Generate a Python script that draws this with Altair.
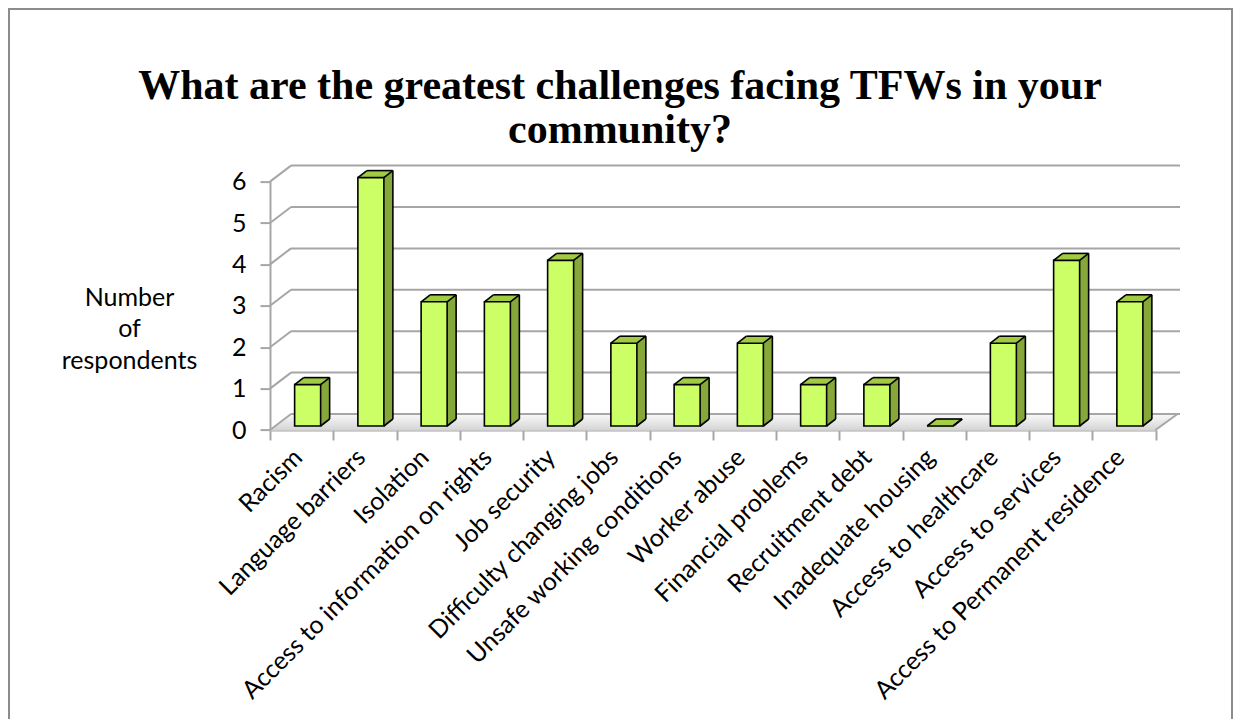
import altair as alt
import pandas as pd

CATEGORIES = ["Racism", "Language barriers", "Isolation", "Access to information on rights",
              "Job security", "Difficulty changing jobs", "Unsafe working conditions",
              "Worker abuse", "Financial problems", "Recruitment debt", "Inadequate housing",
              "Access to healthcare", "Access to services", "Access to Permanent residence"]
VALUES = [1, 6, 3, 3, 4, 2, 1, 2, 1, 1, 0, 2, 4, 3]
Y_TICKS = [0, 1, 2, 3, 4, 5, 6]
TITLE_LINES = ["What are the greatest challenges facing TFWs in your", "community?"]
Y_TITLE_LINES = ["Number", "of", "respondents"]

df = pd.DataFrame({"cat": CATEGORIES, "val": VALUES, "z": [0] * len(VALUES)})
grid_df = pd.DataFrame({"v": Y_TICKS})
one_df = pd.DataFrame({"v": [0]})
title_df = pd.DataFrame({"t": [TITLE_LINES]})

W = 885.5
H = 248.4
DX, DY = 21, -16      # back-wall depth
BX, BY = 6, -4        # bar plane offset
BW = 26               # bar width
PX, PY = 9, -7        # bar depth

FRONT = "#ccff66"
SIDE = "#86a83a"
TOP = "#a2cc44"
GRID = "#a6a6a6"
LABEL_FONT = "Lato"
FS = 25

x_scale = alt.Scale(domain=CATEGORIES, paddingInner=0, paddingOuter=0)
y_scale = alt.Scale(domain=[0, 6], nice=False, zero=True)

x_axis = alt.Axis(title=None, labelAngle=-45, labelAlign="right", labelBaseline="middle",
                  labelFont=LABEL_FONT, labelFontSize=FS, labelColor="black",
                  labelPadding=13, labelOffset=-4, labelLimit=500, labelOverlap=False,
                  tickBand="extent", tickSize=10, tickColor=GRID, tickWidth=2,
                  domainColor=GRID, domainWidth=2, grid=False)
y_axis = alt.Axis(values=Y_TICKS, title=Y_TITLE_LINES, titleAngle=0, titleX=-141, titleY=115.4,
                  titleAlign="center", titleBaseline="middle", titleFont=LABEL_FONT,
                  titleFontSize=FS, titleFontWeight="normal", titleColor="black",
                  titleLineHeight=31.5,
                  labelFont=LABEL_FONT, labelFontSize=FS, labelColor="black", labelPadding=14,
                  tickSize=10, tickColor=GRID, tickWidth=2, domainColor=GRID, domainWidth=2,
                  grid=False)

def X():
    return alt.X("cat:N", scale=x_scale, axis=x_axis, sort=CATEGORIES, bandPosition=0.5)

def X2():
    return alt.X2("cat", bandPosition=0.5)

def Yv(field="val"):
    return alt.Y(f"{field}:Q", scale=y_scale, axis=y_axis)

layers = []

# outer frame
layers.append(alt.Chart(one_df).mark_rect(fill=None, stroke="#8c8c8c", strokeWidth=2).encode(
    x=alt.value(-261), x2=alt.value(962), y=alt.value(-172.6), y2=alt.value(560)))

# floor (swept)
for k in range(17):
    shade = 210 + int(k * 2.4)
    col = f"#{shade:02x}{shade:02x}{shade:02x}"
    layers.append(alt.Chart(one_df).mark_rule(color=col, strokeWidth=1.6,
                                              yOffset=-k).encode(
        x=alt.value(k * DX / 16), x2=alt.value(W + k * 22 / 16), y=Yv("v")))

# back-wall grid lines
layers.append(alt.Chart(grid_df).mark_rule(color=GRID, strokeWidth=2, yOffset=DY).encode(
    x=alt.value(DX), x2=alt.value(910), y=Yv("v")))
layers.append(alt.Chart(grid_df).mark_rule(color=GRID, strokeWidth=2, y2Offset=DY).encode(
    x=alt.value(0), x2=alt.value(DX), y=Yv("v"), y2=alt.Y2("v")))
# right floor edge
layers.append(alt.Chart(one_df).mark_rule(color=GRID, strokeWidth=2, y2Offset=-16).encode(
    x=alt.value(W), x2=alt.value(W + 22), y=Yv("v"), y2=alt.Y2("v")))

# bar body sweep (side colour)
for k in range(PX + 1):
    dy = BY + k * PY / PX
    layers.append(alt.Chart(df).mark_bar(width=BW, color=SIDE, xOffset=BX + k, x2Offset=BX + k,
                                         yOffset=dy, y2Offset=dy).encode(
        x=X(), y=Yv(), y2=alt.Y2("z")))
# top face sweep
for k in range(PX + 1):
    dy = BY + k * PY / PX
    layers.append(alt.Chart(df).mark_bar(width=BW, color=TOP, xOffset=BX + k, x2Offset=BX + k,
                                         yOffset=dy, y2Offset=dy + 1.2).encode(
        x=X(), y=Yv(), y2=alt.Y2("val")))

# front face
layers.append(alt.Chart(df).mark_bar(width=BW, color=FRONT, stroke="black", strokeWidth=1.6,
                                     xOffset=BX, x2Offset=BX, yOffset=BY, y2Offset=BY).encode(
    x=X(), y=Yv(), y2=alt.Y2("z")))

# edges
L, R = BX - BW / 2, BX + BW / 2
edge = dict(color="black", strokeWidth=1.6)
layers.append(alt.Chart(df).mark_rule(xOffset=L + PX, x2Offset=R + PX, yOffset=BY + PY, **edge).encode(
    x=X(), x2=X2(), y=Yv()))
layers.append(alt.Chart(df).mark_rule(xOffset=R + PX, yOffset=BY + PY, y2Offset=BY + PY, **edge).encode(
    x=X(), y=Yv(), y2=alt.Y2("z")))
layers.append(alt.Chart(df).mark_rule(xOffset=L, x2Offset=L + PX, yOffset=BY, y2Offset=BY + PY, **edge).encode(
    x=X(), x2=X2(), y=Yv(), y2=alt.Y2("val")))
layers.append(alt.Chart(df).mark_rule(xOffset=R, x2Offset=R + PX, yOffset=BY, y2Offset=BY + PY, **edge).encode(
    x=X(), x2=X2(), y=Yv(), y2=alt.Y2("val")))
layers.append(alt.Chart(df).mark_rule(xOffset=R, x2Offset=R + PX, yOffset=BY, y2Offset=BY + PY, **edge).encode(
    x=X(), x2=X2(), y=Yv("z"), y2=alt.Y2("z")))

# title
layers.append(alt.Chart(title_df).mark_text(font="Liberation Serif", fontWeight="bold", fontSize=42,
                                            align="center", baseline="alphabetic", lineHeight=44,
                                            color="black").encode(
    text="t", x=alt.value(350), y=alt.value(-83)))

chart = alt.layer(*layers).properties(
    width=W, height=H,
    autosize=alt.AutoSizeParams(type="none"),
    padding={"left": 262, "top": 173.6, "right": 77.5, "bottom": 289},
    background="white",
).configure_view(stroke=None)

chart.save("out.html", embed_options={"renderer": "svg", "actions": False})
